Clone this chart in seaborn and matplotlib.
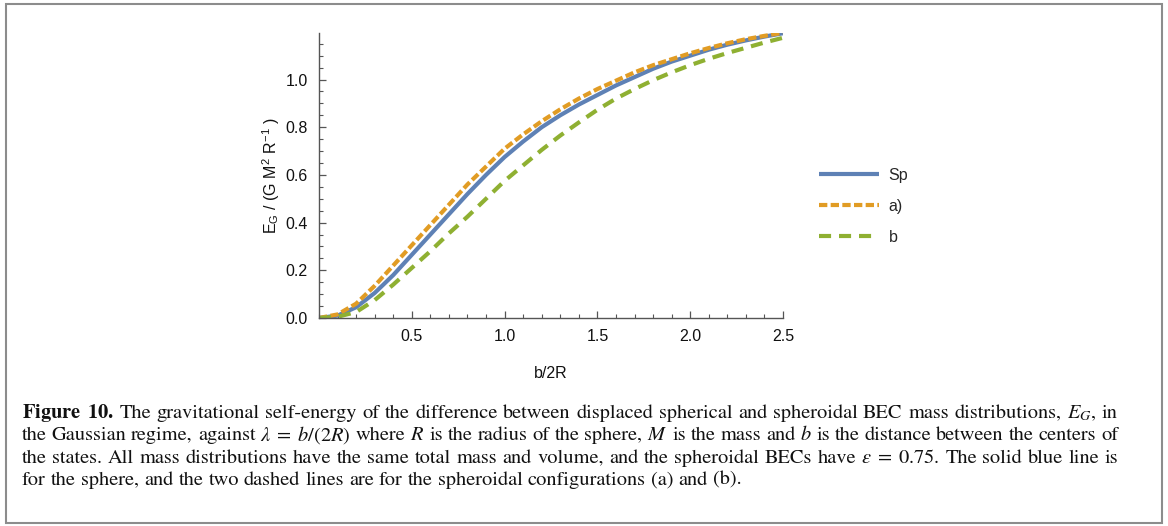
import numpy as np
import pandas as pd
import seaborn as sns
import matplotlib.pyplot as plt
from matplotlib.patches import Rectangle
from matplotlib.ticker import MultipleLocator

# -------------------------------------------------
# DATA
# -------------------------------------------------

lam = [0.0, 0.1, 0.2, 0.3, 0.4, 0.5, 0.6, 0.7, 0.8, 0.9, 1.0, 1.1, 1.2,
       1.3, 1.4, 1.5, 1.6, 1.7, 1.8, 1.9, 2.0, 2.1, 2.2, 2.3, 2.4, 2.5]

e_sphere = [0.0, 0.010, 0.045, 0.105, 0.180, 0.265, 0.350, 0.435, 0.520,
            0.600, 0.675, 0.740, 0.800, 0.850, 0.895, 0.935, 0.975, 1.010,
            1.045, 1.075, 1.100, 1.125, 1.146, 1.164, 1.180, 1.194]

e_a = [0.0, 0.015, 0.060, 0.135, 0.220, 0.305, 0.390, 0.475, 0.560, 0.635,
       0.710, 0.770, 0.825, 0.875, 0.920, 0.960, 0.995, 1.030, 1.060, 1.085,
       1.110, 1.132, 1.152, 1.169, 1.183, 1.196]

e_b = [0.0, 0.005, 0.025, 0.075, 0.140, 0.210, 0.280, 0.355, 0.425, 0.500,
       0.575, 0.640, 0.705, 0.765, 0.820, 0.873, 0.920, 0.960, 0.997, 1.030,
       1.060, 1.087, 1.111, 1.133, 1.155, 1.175]

labels = ["Sp", "a)", "b"]
colors = ["#5E81B5", "#E19C24", "#8FB032"]

x_ticks = [0.5, 1.0, 1.5, 2.0, 2.5]
y_ticks = [0.0, 0.2, 0.4, 0.6, 0.8, 1.0]

caption = [
    r"$\mathbf{Figure}$ $\mathbf{10.}$ The gravitational self-energy of the difference between displaced "
    r"spherical and spheroidal BEC mass distributions, $E_G$, in",
    r"the Gaussian regime, against $\lambda\;=\;b/(2R)$ where $R$ is the radius of the sphere, "
    r"$M$ is the mass and $b$ is the distance between the centers of",
    r"the states. All mass distributions have the same total mass and volume, and the spheroidal "
    r"BECs have $\epsilon\;=\;0.75$. The solid blue line is",
    r"for the sphere, and the two dashed lines are for the spheroidal configurations (a) and (b).",
]

# -------------------------------------------------
# STYLE
# -------------------------------------------------

sns.set_theme(style="ticks")
plt.rcParams["font.family"] = ["Liberation Sans", "DejaVu Sans"]
plt.rcParams["mathtext.fontset"] = "stix"

df = pd.DataFrame({"lam": lam, "Sp": e_sphere, "a)": e_a, "b": e_b})

fig = plt.figure(figsize=(11.68, 5.26), dpi=100)
ax = fig.add_axes([319 / 1168, 1 - 318 / 526, 464 / 1168, 285 / 526])

dash_styles = {"Sp": "", "a)": (2.0, 0.8), "b": (2.9, 1.9)}

for lab, col in zip(labels, colors):
    sns.lineplot(data=df, x="lam", y=lab, ax=ax, color=col, linewidth=3.0,
                 label=lab, dashes=False)
    line = ax.get_lines()[-1]
    if dash_styles[lab]:
        line.set_dashes(dash_styles[lab])
    line.set_solid_capstyle("butt")
    line.set_dash_capstyle("butt")

ax.set_xlim(0, 2.5)
ax.set_ylim(0, 1.195)

ax.set_xticks(x_ticks)
ax.set_xticklabels([f"{v:.1f}" for v in x_ticks])
ax.set_yticks(y_ticks)
ax.set_yticklabels([f"{v:.1f}" for v in y_ticks])
ax.xaxis.set_minor_locator(MultipleLocator(0.1))
ax.yaxis.set_minor_locator(MultipleLocator(0.05))

axis_col = "#555555"
for side in ["top", "right"]:
    ax.spines[side].set_visible(False)
for side in ["left", "bottom"]:
    ax.spines[side].set_color(axis_col)
    ax.spines[side].set_linewidth(1.0)

ax.tick_params(which="major", direction="in", length=5, width=0.9,
               color=axis_col, labelsize=11.5, labelcolor="#111111", pad=8)
ax.tick_params(which="minor", direction="in", length=3, width=0.8,
               color=axis_col)

ax.set_xlabel("b/2R", fontsize=11.5, color="#111111", labelpad=16)
ax.set_ylabel(r"E$_{\mathregular{G}}$ / (G M$^{\mathregular{2}}$ R$^{\mathregular{-1}}$ )",
              fontsize=11.5, color="#111111", labelpad=3)

ax.legend(loc="center left", bbox_to_anchor=(819 / 1168, 1 - 206.5 / 526),
          bbox_transform=fig.transFigure, frameon=False, fontsize=11.5,
          handlelength=3.75, handletextpad=0.6, labelspacing=1.0,
          borderpad=0, borderaxespad=0)

# -------------------------------------------------
# CAPTION (justified word by word)
# -------------------------------------------------

renderer = fig.canvas.get_renderer()
cap_kw = dict(fontsize=14.7, family="STIXGeneral", va="baseline", ha="left",
              color="#111111")
left_px, right_px = 22, 1118

t1 = fig.text(0, 0, "x x", **cap_kw)
t2 = fig.text(0, 0, "xx", **cap_kw)
space_px = t1.get_window_extent(renderer).width - t2.get_window_extent(renderer).width
t1.remove()
t2.remove()

for i, line in enumerate(caption):
    y = 1 - (418 + 22.3 * i) / 526
    words = line.split(" ")
    texts = [fig.text(0, y, w, **cap_kw) for w in words]
    widths = [t.get_window_extent(renderer).width for t in texts]
    if i < len(caption) - 1:
        gap = (right_px - left_px - sum(widths)) / (len(words) - 1)
    else:
        gap = space_px
    x = left_px
    for t, w in zip(texts, widths):
        t.set_x(x / 1168)
        x += w + gap

# frame around figure + caption
fig.patches.append(Rectangle((6 / 1168, 3 / 526), 1156 / 1168, 519 / 526,
                             transform=fig.transFigure, fill=False,
                             edgecolor="#8c8c8c", linewidth=1.5))

fig.savefig("out.png", dpi=100)
